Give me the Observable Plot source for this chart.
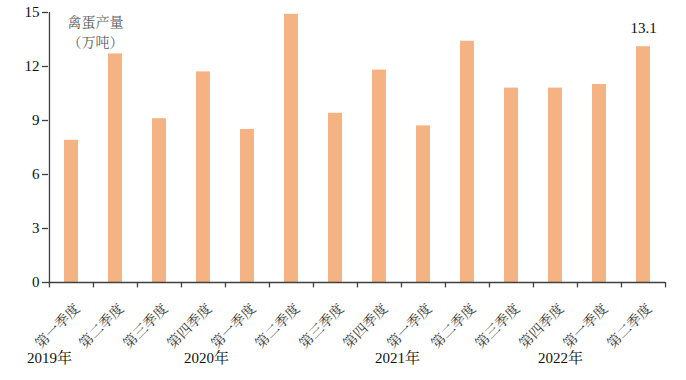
<!DOCTYPE html>
<html>
<head>
<meta charset="utf-8">
<script src="https://cdn.jsdelivr.net/npm/d3@7"></script>
<script src="https://cdn.jsdelivr.net/npm/@observablehq/plot@0.6"></script>
<style>
  html, body { margin: 0; padding: 0; background: #fff; }
  #chart { width: 686px; height: 380px; }
</style>
</head>
<body>
<div id="chart"></div>
<script>
// ---- data ----
const periods = ["2019-1","2019-2","2019-3","2019-4","2020-1","2020-2","2020-3","2020-4","2021-1","2021-2","2021-3","2021-4","2022-1","2022-2"];
const quarterLabels = ["第一季度","第二季度","第三季度","第四季度","第一季度","第二季度","第三季度","第四季度","第一季度","第二季度","第三季度","第四季度","第一季度","第二季度"];
const eggOutput = [7.9, 12.7, 9.1, 11.7, 8.5, 14.9, 9.4, 11.8, 8.7, 13.4, 10.8, 10.8, 11.0, 13.1];
const yTicks = [0, 3, 6, 9, 12, 15];
const yearLabels = ["2019年", "2020年", "2021年", "2022年"];
const unitLabel = "禽蛋产量\n（万吨）";

// ---- layout ----
const W = 686, H = 380;
const mL = 48, mR = 21, mT = 12, mB = 98;
const bw = (W - mL - mR) / periods.length;
const serif = "'Liberation Serif', 'Noto Serif CJK SC', 'Noto Sans CJK SC', serif";
const axisColor = "#404040";

const rows = periods.map((p, i) => ({p, label: quarterLabels[i], v: eggOutput[i]}));
const boundaries = periods.map(p => ({p}));
// year label anchors: [period index, offset in px]
const yearPos = [[0, -bw / 2], [3, 3], [7, 18], [11, 5]];
const years = yearLabels.map((y, i) => ({y, p: periods[yearPos[i][0]], dx: yearPos[i][1]}));

const chart = Plot.plot({
  width: W, height: H,
  marginLeft: mL, marginRight: mR, marginTop: mT, marginBottom: mB,
  style: {fontFamily: serif, background: "#fff", overflow: "visible"},
  x: {domain: periods, padding: 0, axis: null},
  y: {domain: [0, 15]},
  marks: [
    Plot.barY(rows, {x: "p", y: "v", fill: "#F5B282", insetLeft: (bw - 14) / 2, insetRight: (bw - 14) / 2}),
    // y axis
    Plot.axisY({ticks: yTicks, tickSize: 6, tickPadding: 3, fontSize: 15, color: "#111", stroke: axisColor, strokeWidth: 1.3, label: null}),
    Plot.ruleX([periods[0]], {y1: 0, y2: 15, dx: -bw / 2, stroke: axisColor, strokeWidth: 1.3}),
    // x axis line
    Plot.ruleY([0], {stroke: axisColor, strokeWidth: 1.3}),
    // x ticks at band boundaries
    Plot.ruleX(boundaries, {x: "p", y1: 0, y2: -0.3, dx: -bw / 2, stroke: axisColor, strokeWidth: 1.3}),
    Plot.ruleX(boundaries.slice(-1), {x: "p", y1: 0, y2: -0.3, dx: bw / 2, stroke: axisColor, strokeWidth: 1.3}),
    // rotated quarter labels
    Plot.text(rows, {x: "p", y: 0, text: "label", rotate: -45, textAnchor: "end", dx: 6, dy: 24, fontSize: 14, fill: "#333", fontFamily: "'Noto Serif CJK SC', 'Noto Sans CJK SC', sans-serif"}),
    // year labels
    ...years.map(d => Plot.text([d], {x: "p", y: 0, text: "y", dx: d.dx, dy: 76, fontSize: 15, fill: "#111"})),
    // unit label
    Plot.text([unitLabel], {frameAnchor: "top-left", textAnchor: "middle", dx: 47, dy: 1, lineAnchor: "top", lineHeight: 1.4, fontSize: 14, fill: "#606060", fontFamily: "'Noto Serif CJK SC', 'Noto Sans CJK SC', sans-serif", text: d => d}),
    // value label on last bar
    Plot.text(rows.slice(-1), {x: "p", y: "v", text: d => d.v.toFixed(1), dy: -19, fontSize: 15, fill: "#111"})
  ]
});
document.getElementById("chart").appendChild(chart);
</script>
</body>
</html>
